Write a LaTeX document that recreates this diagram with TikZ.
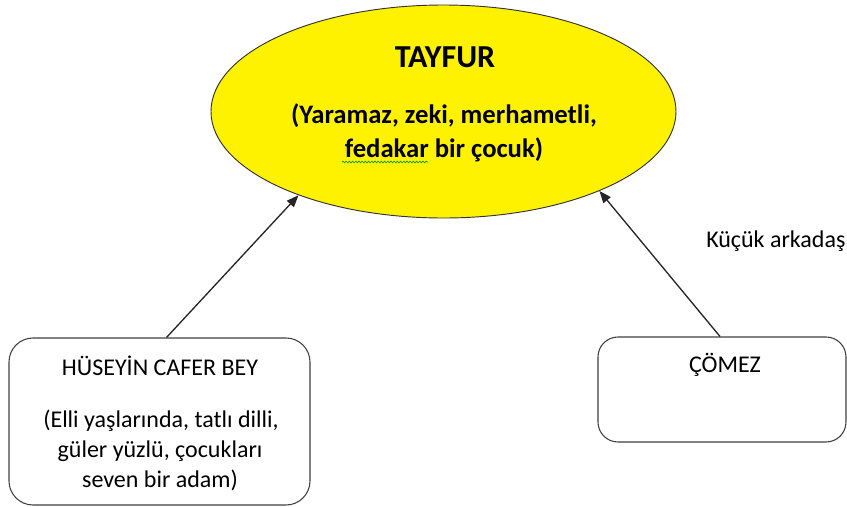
\documentclass[tikz,border=0pt]{standalone}
\usepackage{fontspec}
\setmainfont{Carlito}
\usetikzlibrary{shapes.geometric,arrows.meta,decorations.pathmorphing}
\begin{document}
\begin{tikzpicture}[x=0.75pt,y=-0.75pt,
  bigtxt/.style={font=\fontsize{20}{24}\selectfont\bfseries,anchor=base,inner sep=0pt},
  smalltxt/.style={font=\fontsize{18}{22}\selectfont,anchor=base,inner sep=0pt},
  charbox/.style={draw=black!75,line width=0.8pt,rounded corners=18pt,fill=white},
  arr/.style={draw=black!85,line width=1pt,-{Triangle[length=9pt,width=7pt]}}
]
\useasboundingbox (0,0) rectangle (847,507);
% main ellipse
\node[ellipse,draw=black!80,line width=0.7pt,fill=yellow,inner sep=0pt,
      minimum width=348.75pt,minimum height=159.75pt] (tayfur) at (443.5,111.5) {};
\node[bigtxt,font=\fontsize{24}{28}\selectfont\bfseries] (t1) at (445,67) {TAYFUR};
\node[bigtxt] (t2) at (444,123) {(Yaramaz, zeki, merhametli,};
\node[bigtxt] (t3) at (444,157) {fedakar bir çocuk)};
\draw[green!60!black,line width=0.5pt,decorate,decoration={snake,amplitude=0.6pt,segment length=2.4pt}]
  (342,162) -- (428,162);
% left box
\node[charbox,minimum width=225.75pt,minimum height=125.25pt] (hus) at (159.5,421.5) {};
\node[smalltxt] (h1) at (160,375) {HÜSEYİN CAFER BEY};
\node[smalltxt] (h2) at (161,427) {(Elli yaşlarında, tatlı dilli,};
\node[smalltxt] (h3) at (160,457) {güler yüzlü, çocukları};
\node[smalltxt] (h4) at (160,487) {seven bir adam)};
% right box
\node[charbox,rounded corners=15pt,minimum width=186pt,minimum height=78.75pt] (comez) at (722,389.5) {};
\node[smalltxt] (c1) at (725,372) {ÇÖMEZ};
\node[smalltxt,anchor=base west] (kucuk) at (706,247) {Küçük arkadaşı};
% arrows
\draw[arr] ([xshift=5.25pt]hus.north) -- (tayfur.210.7);
\draw[arr] ([xshift=-1.5pt]comez.north) -- (tayfur.333.4);
\end{tikzpicture}
\end{document}
